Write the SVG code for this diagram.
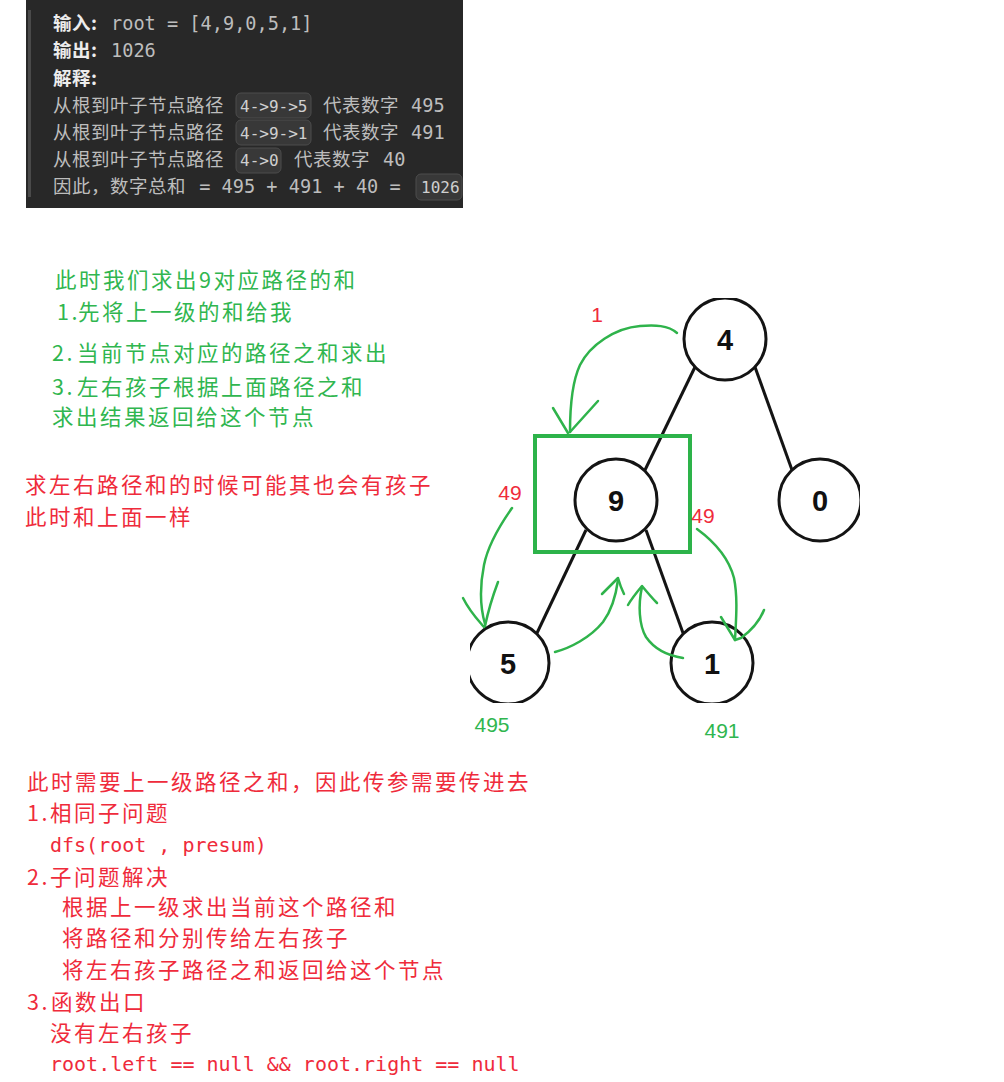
<svg xmlns="http://www.w3.org/2000/svg" width="1004" height="1082" viewBox="0 0 1004 1082">
<style>
.cjk{font-family:"Noto Sans CJK SC","Noto Sans",sans-serif}
.mono{font-family:"DejaVu Sans Mono","Liberation Mono",monospace;letter-spacing:0}
.pl{font-size:18.5px;letter-spacing:0.5px;fill:#bdbdbd}
.pb{font-weight:bold;fill:#ececec}
.pm{font-size:18.6px;fill:#bdbdbd}
.cb{fill:#383838;stroke:#4c4c4c;stroke-width:1}
.ct{font-size:16px;fill:#cfcfcf}
.g{fill:#30b64f;font-size:21.5px;letter-spacing:2.5px}
.r{fill:#ef2b3b;font-size:21.5px;letter-spacing:2.5px}
.rm{fill:#ef2b3b;font-size:20px}
.edge{stroke:#141414;stroke-width:3;fill:none}
.node circle{fill:#fff;stroke:#141414;stroke-width:3}
.node text{font-family:"Liberation Sans",Arial,sans-serif;font-weight:bold;font-size:29px;fill:#111;text-anchor:middle}
.ga{stroke:#2fb34b;stroke-width:2.5;fill:none;stroke-linecap:round;stroke-linejoin:round}
.lbl{font-family:"Liberation Sans",Arial,sans-serif;font-size:21px;text-anchor:middle}
</style>
<defs>
<clipPath id="treeclip"><rect x="470" y="298" width="390" height="405"/></clipPath>
</defs>
<rect width="1004" height="1082" fill="#fff"/>

<g id="example-panel">
<rect x="26" y="0" width="437" height="208" fill="#282828"/>
<rect x="28" y="10" width="3" height="187" fill="#4a4a4a"/>
<text class="cjk pl" y="30"><tspan x="53" class="pb">输入:</tspan><tspan x="111" class="mono pm">root = [4,9,0,5,1]</tspan></text>
<text class="cjk pl" y="57"><tspan x="53" class="pb">输出:</tspan><tspan x="111" class="mono pm">1026</tspan></text>
<text class="cjk pl pb" x="53" y="85">解释:</text>
<rect class="cb" x="236" y="93" width="75" height="25" rx="5"/>
<text class="cjk pl" y="112"><tspan x="53">从根到叶子节点路径</tspan><tspan x="240" class="mono ct">4-&gt;9-&gt;5</tspan><tspan x="323">代表数字</tspan><tspan x="411" class="mono pm">495</tspan></text>
<rect class="cb" x="236" y="120" width="75" height="25" rx="5"/>
<text class="cjk pl" y="139"><tspan x="53">从根到叶子节点路径</tspan><tspan x="240" class="mono ct">4-&gt;9-&gt;1</tspan><tspan x="323">代表数字</tspan><tspan x="411" class="mono pm">491</tspan></text>
<rect class="cb" x="236" y="148" width="45" height="25" rx="5"/>
<text class="cjk pl" y="166"><tspan x="53">从根到叶子节点路径</tspan><tspan x="240" class="mono ct">4-&gt;0</tspan><tspan x="294">代表数字</tspan><tspan x="383" class="mono pm">40</tspan></text>
<rect class="cb" x="416" y="174" width="46" height="26" rx="5"/>
<text class="cjk pl" y="193"><tspan x="53">因此，数字总和</tspan><tspan x="188" class="mono pm"> = 495 + 491 + 40 = </tspan><tspan x="421" class="mono ct">1026</tspan></text>
</g>

<g id="green-notes" class="cjk g">
<text x="55" y="288">此时我们求出9对应路径的和</text>
<text y="320"><tspan x="57">1.</tspan><tspan x="78">先将上一级的和给我</tspan></text>
<text y="361"><tspan x="52">2.</tspan><tspan x="77">当前节点对应的路径之和求出</tspan></text>
<text y="395"><tspan x="52">3.</tspan><tspan x="77">左右孩子根据上面路径之和</tspan></text>
<text x="52" y="425">求出结果返回给这个节点</text>
</g>

<g id="red-notes" class="cjk r">
<text x="25" y="493">求左右路径和的时候可能其也会有孩子</text>
<text x="25" y="525">此时和上面一样</text>
</g>

<g id="tree" clip-path="url(#treeclip)">
<g id="connectors">
<line class="edge" x1="695" y1="367" x2="645" y2="470"/>
<line class="edge" x1="755" y1="367" x2="792" y2="470"/>
<line class="edge" x1="586" y1="530" x2="537" y2="633"/>
<line class="edge" x1="646" y1="530" x2="683" y2="633"/>
</g>
<g id="node-4" class="node"><circle cx="725" cy="339" r="41"/><text x="725" y="350">4</text></g>
<g id="node-9" class="node"><circle cx="616" cy="500" r="41"/><text x="616" y="511">9</text></g>
<g id="node-0" class="node"><circle cx="820" cy="500" r="41"/><text x="820" y="511">0</text></g>
<g id="node-5" class="node"><circle cx="508" cy="663" r="41"/><text x="508" y="674">5</text></g>
<g id="node-1" class="node"><circle cx="712" cy="663" r="41"/><text x="712" y="674">1</text></g>
</g>

<g id="highlight">
<rect x="535" y="436" width="155" height="116" fill="none" stroke="#2db34a" stroke-width="4"/>
</g>

<g id="flow-arrows">
<path class="ga" d="M 677 333 C 668 325, 655 325, 640 326 C 615 328, 590 345, 580 365 C 572 382, 570 405, 570 432"/>
<path class="ga" d="M 553 408 L 568 433 M 598 401 L 570 432"/>
<path class="ga" d="M 512 508 C 500 525, 488 545, 484 565 C 479 590, 481 610, 485 624"/>
<path class="ga" d="M 463 598 C 470 612, 478 620, 484 627 M 498 582 C 492 598, 488 612, 485 626"/>
<path class="ga" d="M 697 529 C 712 540, 728 555, 734 578 C 738 598, 736 620, 735 640"/>
<path class="ga" d="M 721 617 L 735 640 L 741 638 C 752 630, 760 620, 764 610"/>
<path class="ga" d="M 555 652 C 570 648, 590 638, 603 622 C 612 610, 616 595, 618 580"/>
<path class="ga" d="M 602 594 C 608 588, 614 582, 618 578 C 620 585, 622 590, 624 594"/>
<path class="ga" d="M 683 658 C 670 656, 655 650, 646 637 C 639 625, 638 605, 642 587"/>
<path class="ga" d="M 628 605 C 632 598, 637 592, 642 586 C 647 592, 652 598, 657 603"/>
</g>

<g id="tree-labels" class="lbl">
<text x="597" y="322" fill="#ef2b3b">1</text>
<text x="510" y="500" fill="#ef2b3b">49</text>
<text x="703" y="523" fill="#ef2b3b">49</text>
<text x="492" y="732" fill="#30b64f">495</text>
<text x="722" y="738" fill="#30b64f">491</text>
</g>

<g id="bottom-notes" class="cjk r">
<text x="27" y="790">此时需要上一级路径之和，因此传参需要传进去</text>
<text y="821"><tspan x="27">1.</tspan><tspan x="50">相同子问题</tspan></text>
<text x="50" y="852" class="mono rm">dfs(root , presum)</text>
<text y="885"><tspan x="27">2.</tspan><tspan x="50">子问题解决</tspan></text>
<text x="62" y="915">根据上一级求出当前这个路径和</text>
<text x="62" y="946">将路径和分别传给左右孩子</text>
<text x="62" y="978">将左右孩子路径之和返回给这个节点</text>
<text y="1010"><tspan x="27">3.</tspan><tspan x="51">函数出口</tspan></text>
<text x="50" y="1041">没有左右孩子</text>
<text x="50" y="1071" class="mono rm">root.left == null &amp;&amp; root.right == null</text>
</g>
</svg>
